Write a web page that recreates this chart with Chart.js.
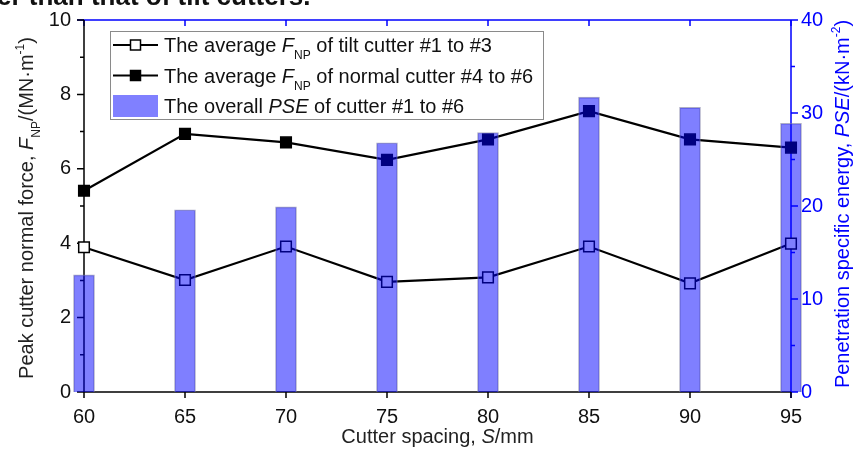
<!DOCTYPE html>
<html>
<head>
<meta charset="utf-8">
<script src="https://cdn.jsdelivr.net/npm/chart.js@4"></script>
<style>
  html, body { margin: 0; padding: 0; background: #fff; }
  #wrap { width: 855px; height: 459px; position: relative; }
</style>
</head>
<body>
<div id="wrap"><canvas id="cv" width="855" height="459"></canvas></div>
<script>
  // cutter spacing S (mm)
  const spacing = ['60', '65', '70', '75', '80', '85', '90', '95'];
  // average F_NP of tilt cutter #1..#3 (MN/m)
  const tiltFnp = [3.89, 3.01, 3.91, 2.96, 3.08, 3.91, 2.92, 3.99];
  // average F_NP of normal cutter #4..#6 (MN/m)
  const normalFnp = [5.41, 6.94, 6.71, 6.24, 6.79, 7.55, 6.79, 6.57];
  // overall PSE of cutter #1..#6 (kN/m^2)
  const pse = [12.6, 19.6, 19.9, 26.8, 27.9, 31.7, 30.6, 28.9];

  const FONT = "'Liberation Sans', Arial, sans-serif";
  const BLUE = '#0000ff';
  const FS = 20;

  // rich text helpers: segments may be italic (i), subscript (sub) or superscript (sup)
  function segFont(s, size) {
    const sz = (s.sub || s.sup) ? Math.round(size * 0.6) : size;
    return (s.i ? 'italic ' : '') + sz + 'px ' + FONT;
  }
  function richWidth(ctx, segs, size) {
    let w = 0;
    segs.forEach(s => {
      ctx.font = segFont(s, size);
      w += ctx.measureText(s.t).width;
    });
    return w;
  }
  function drawRich(ctx, segs, x, y, size) {
    segs.forEach(s => {
      ctx.font = segFont(s, size);
      let dy = 0;
      if (s.sub) dy = size * 0.35;
      if (s.sup) dy = -size * 0.45;
      ctx.fillText(s.t, x, y + dy);
      x += ctx.measureText(s.t).width;
    });
  }

  const legendRows = [
    { kind: 'open', segs: [{ t: 'The average ' }, { t: 'F', i: true }, { t: 'NP', sub: true }, { t: ' of tilt cutter #1 to #3' }] },
    { kind: 'filled', segs: [{ t: 'The average ' }, { t: 'F', i: true }, { t: 'NP', sub: true }, { t: ' of normal cutter #4 to #6' }] },
    { kind: 'bar', segs: [{ t: 'The overall ' }, { t: 'PSE', i: true }, { t: ' of cutter #1 to #6' }] },
  ];

  // axis frame + ticks go under the (translucent) bars, like in the original
  const frame = {
    id: 'frame',
    beforeDatasetsDraw(chart) {
      const ctx = chart.ctx;
      const a = chart.chartArea;
      const x = chart.scales.x, y = chart.scales.y, y1 = chart.scales.y1;
      ctx.save();
      ctx.lineWidth = 1.5;

      // top axis (blue) with inward ticks
      ctx.strokeStyle = BLUE;
      ctx.beginPath();
      ctx.moveTo(a.left - 7, a.top); ctx.lineTo(a.right, a.top);
      spacing.forEach((s, i) => {
        const px = x.getPixelForValue(i);
        ctx.moveTo(px, a.top); ctx.lineTo(px, a.top + 6);
      });
      ctx.stroke();

      // right axis (blue) with outward ticks
      ctx.beginPath();
      ctx.moveTo(a.right, a.top); ctx.lineTo(a.right, a.bottom + 6);
      for (let v = 0; v <= 40; v += 5) {
        const py = y1.getPixelForValue(v);
        ctx.moveTo(a.right, py); ctx.lineTo(a.right + (v % 10 === 0 ? 7 : 4), py);
      }
      ctx.stroke();

      // left axis (black)
      ctx.strokeStyle = '#000';
      ctx.beginPath();
      ctx.moveTo(a.left, a.top); ctx.lineTo(a.left, a.bottom);
      for (let v = 0; v <= 10; v += 1) {
        const py = y.getPixelForValue(v);
        ctx.moveTo(a.left, py); ctx.lineTo(a.left - (v % 2 === 0 ? 7 : 4), py);
      }
      ctx.stroke();

      // bottom axis (black)
      ctx.beginPath();
      ctx.moveTo(a.left, a.bottom); ctx.lineTo(a.right, a.bottom);
      spacing.forEach((s, i) => {
        const px = x.getPixelForValue(i);
        ctx.moveTo(px, a.bottom); ctx.lineTo(px, a.bottom + 6);
      });
      ctx.stroke();
      ctx.restore();
    },
  };

  // titles, cropped caption and legend
  const decor = {
    id: 'decor',
    afterDraw(chart) {
      const ctx = chart.ctx;
      const a = chart.chartArea;
      ctx.save();

      // cropped caption line above the figure
      ctx.fillStyle = '#111';
      ctx.textBaseline = 'alphabetic';
      ctx.font = 'bold 26px ' + FONT;
      ctx.fillText('er than that of tilt cutters.', -3, 5);

      // axis titles
      const bottomTitle = [{ t: 'Cutter spacing, ' }, { t: 'S', i: true }, { t: '/mm' }];
      let w = richWidth(ctx, bottomTitle, FS);
      ctx.fillStyle = '#222';
      drawRich(ctx, bottomTitle, (a.left + a.right) / 2 - w / 2, 443, FS);

      const leftTitle = [{ t: 'Peak cutter normal force, ' }, { t: 'F', i: true }, { t: 'NP', sub: true },
        { t: '/(MN\u00b7m' }, { t: '-1', sup: true }, { t: ')' }];
      w = richWidth(ctx, leftTitle, FS);
      ctx.save();
      ctx.translate(33, 208);
      ctx.rotate(-Math.PI / 2);
      drawRich(ctx, leftTitle, -w / 2, 0, FS);
      ctx.restore();

      const rightTitle = [{ t: 'Penetration specific energy, ' }, { t: 'PSE', i: true },
        { t: '/(kN\u00b7m' }, { t: '-2', sup: true }, { t: ')' }];
      w = richWidth(ctx, rightTitle, FS);
      ctx.save();
      ctx.fillStyle = BLUE;
      ctx.translate(849, 204);
      ctx.rotate(-Math.PI / 2);
      drawRich(ctx, rightTitle, -w / 2, 0, FS);
      ctx.restore();

      // legend
      const lx = 110.5, ly = 31.5, lw = 433, lh = 88;
      ctx.fillStyle = '#fff';
      ctx.fillRect(lx, ly, lw, lh);
      ctx.strokeStyle = '#8a8a8a';
      ctx.lineWidth = 1;
      ctx.strokeRect(lx, ly, lw, lh);
      legendRows.forEach((r, i) => {
        const cy = 45 + i * 30.5;
        if (r.kind === 'bar') {
          ctx.fillStyle = '#8080ff';
          ctx.fillRect(113, cy - 11, 45, 22);
        } else {
          ctx.strokeStyle = '#000';
          ctx.lineWidth = 2;
          ctx.beginPath();
          ctx.moveTo(113, cy); ctx.lineTo(158, cy);
          ctx.stroke();
          ctx.fillStyle = r.kind === 'open' ? '#fff' : '#000';
          ctx.lineWidth = 1.5;
          ctx.fillRect(130.5, cy - 5, 10, 10);
          ctx.strokeRect(130.5, cy - 5, 10, 10);
        }
        ctx.fillStyle = '#111';
        drawRich(ctx, r.segs, 164, cy + 7, FS);
      });
      ctx.restore();
    },
  };

  // fixed axis sizes so the plot area sits where the original figure has it
  function fixY(width) {
    return s => { s.width = width; s.paddingTop = 0; s.paddingBottom = 0; };
  }

  new Chart(document.getElementById('cv'), {
    type: 'bar',
    data: {
      labels: spacing,
      datasets: [
        {
          type: 'line',
          label: 'tilt',
          data: tiltFnp,
          yAxisID: 'y',
          order: 1,
          borderColor: '#000',
          borderWidth: 2.2,
          pointStyle: 'rect',
          pointRadius: 7.5,
          pointBackgroundColor: '#fff',
          pointBorderColor: '#000',
          pointBorderWidth: 1.5,
          tension: 0,
          clip: false,
        },
        {
          type: 'line',
          label: 'normal',
          data: normalFnp,
          yAxisID: 'y',
          order: 1,
          borderColor: '#000',
          borderWidth: 2.2,
          pointStyle: 'rect',
          pointRadius: 7.5,
          pointBackgroundColor: '#000',
          pointBorderColor: '#000',
          pointBorderWidth: 1.5,
          tension: 0,
          clip: false,
        },
        {
          label: 'PSE',
          data: pse,
          yAxisID: 'y1',
          order: 0,
          backgroundColor: 'rgba(0,0,255,0.5)',
          borderColor: 'rgba(120,120,160,0.6)',
          borderWidth: 1,
          borderSkipped: 'bottom',
          barThickness: 21,
          clip: false,
        },
      ],
    },
    options: {
      responsive: false,
      animation: false,
      layout: { padding: { top: 20, left: 0, right: 0, bottom: 0 } },
      plugins: { legend: { display: false }, tooltip: { enabled: false } },
      scales: {
        x: {
          type: 'category',
          offset: false,
          grid: { display: false, drawTicks: false, offset: false },
          border: { display: false },
          ticks: { color: '#111', font: { family: FONT, size: FS }, padding: 13, maxRotation: 0 },
          afterFit: s => { s.height = 67; s.paddingLeft = 0; s.paddingRight = 0; },
        },
        y: {
          position: 'left',
          min: 0, max: 10,
          grid: { display: false, drawTicks: false },
          border: { display: false },
          ticks: { stepSize: 2, color: '#111', font: { family: FONT, size: FS }, padding: 13 },
          afterFit: fixY(84),
        },
        y1: {
          position: 'right',
          min: 0, max: 40,
          grid: { display: false, drawTicks: false },
          border: { display: false },
          ticks: { stepSize: 10, color: BLUE, font: { family: FONT, size: FS }, padding: 10 },
          afterFit: fixY(64),
        },
      },
    },
    plugins: [frame, decor],
  });
</script>
</body>
</html>
